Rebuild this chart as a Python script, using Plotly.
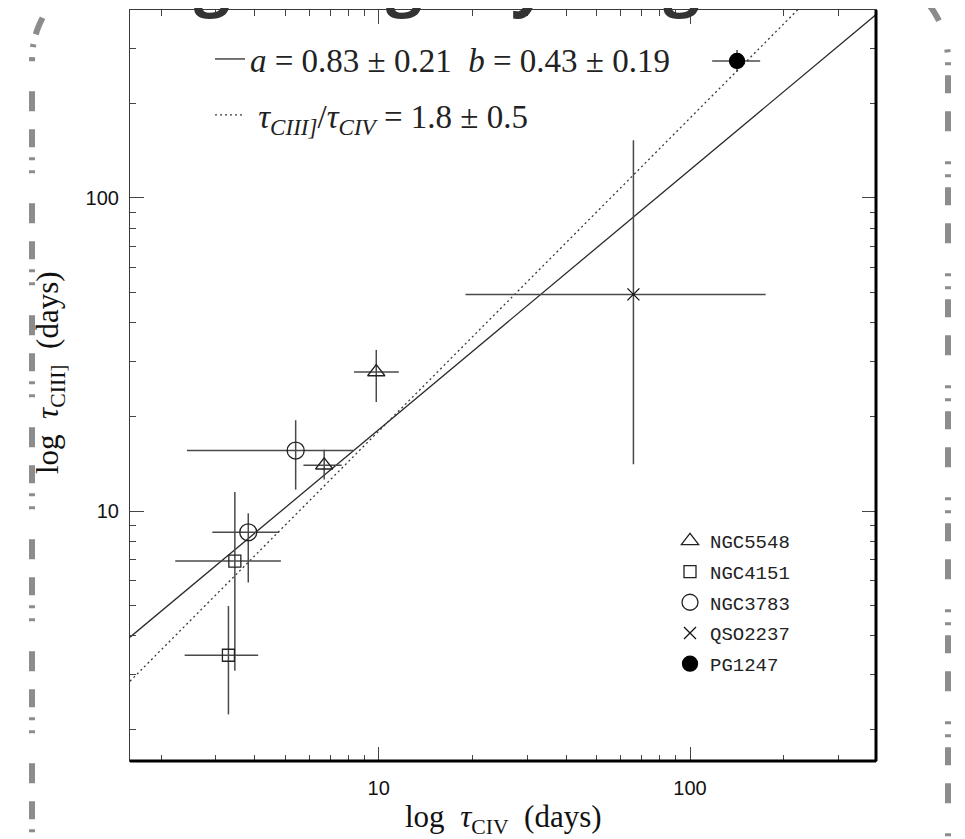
import numpy as np
import plotly.graph_objects as go

# ---------------- data ----------------
ngc5548_x = [6.68, 9.82]
ngc5548_y = [14.0, 27.8]
ngc5548_xlo = [5.73, 8.33]
ngc5548_xhi = [7.60, 11.6]
ngc5548_ylo = [12.6, 22.3]
ngc5548_yhi = [15.7, 32.7]

ngc4151_x = [3.45, 3.29]
ngc4151_y = [6.92, 3.46]
ngc4151_xlo = [2.22, 2.38]
ngc4151_xhi = [4.85, 4.10]
ngc4151_ylo = [3.09, 2.24]
ngc4151_yhi = [11.5, 4.97]

ngc3783_x = [5.41, 3.81]
ngc3783_y = [15.6, 8.55]
ngc3783_xlo = [2.42, 2.92]
ngc3783_xhi = [8.29, 4.79]
ngc3783_ylo = [11.7, 5.91]
ngc3783_yhi = [19.5, 9.83]

qso2237_x = [65.8]
qso2237_y = [49.2]
qso2237_xlo = [19.0]
qso2237_xhi = [175.0]
qso2237_ylo = [14.1]
qso2237_yhi = [153.0]

pg1247_x = [141.6]
pg1247_y = [274.0]
pg1247_xlo = [117.8]
pg1247_xhi = [168.0]
pg1247_ylo = [252.7]
pg1247_yhi = [297.0]

fit_a, fit_b = 0.83, 0.43          # log tCIII = a log tCIV + b
ratio = 1.8                         # tCIII / tCIV
line_x = [10 ** 0.201, 10 ** 2.6]

x_tickvals = [10, 100]
y_tickvals = [10, 100]
minor_vals = [2, 3, 4, 5, 6, 7, 8, 9, 20, 30, 40, 50, 60, 70, 80, 90, 200, 300]

# ---------------- layout geometry ----------------
# the page body adds an 8px offset, so the figure is 8px smaller
OFF = 8
W, H = 965 - OFF, 839 - OFF
ML, MR, MT, MB = 130 - OFF, 89, 10 - OFF, 78
PW, PH = W - ML - MR, H - MT - MB   # 746 x 751
REF_L, REF_B = 130, 761             # plot-area corner in screen pixels


def px(xp):
    return (xp - REF_L) / PW


def py(yp):
    return (REF_B - yp) / PH


ERR = "#4a4a4a"
SERIF = "Liberation Serif"

fig = go.Figure()

# fit lines
fig.add_trace(go.Scatter(
    x=line_x, y=[10 ** (fit_a * np.log10(v) + fit_b) for v in line_x],
    mode="lines", line=dict(color="#2a2a2a", width=1.3),
    name="<i>a</i> = 0.83 ± 0.21  <i>b</i> = 0.43 ± 0.19",
    legend="legend", legendgroup="fit1", showlegend=True))
fig.add_trace(go.Scatter(
    x=line_x, y=[ratio * v for v in line_x],
    mode="lines", line=dict(color="#3a3a3a", width=1.3, dash="2px,3px"),
    name=" <i>τ</i><sub><i>CIII]</i></sub>/<i>τ</i><sub><i>CIV</i></sub> = 1.8 ± 0.5",
    legend="legend", legendgroup="fit2", showlegend=True))


def add_obj(name, xs, ys, xlo, xhi, ylo, yhi, symbol, size, color):
    fig.add_trace(go.Scatter(
        x=xs, y=ys, mode="markers", name=name,
        legend="legend2", legendgroup=name,
        marker=dict(symbol=symbol, size=size, color=color,
                    line=dict(color=color, width=1.3)),
        error_x=dict(type="data", symmetric=False,
                     array=[h - v for h, v in zip(xhi, xs)],
                     arrayminus=[v - l for v, l in zip(xs, xlo)],
                     color=ERR, thickness=1.5, width=0),
        error_y=dict(type="data", symmetric=False,
                     array=[h - v for h, v in zip(yhi, ys)],
                     arrayminus=[v - l for v, l in zip(ys, ylo)],
                     color=ERR, thickness=1.5, width=0),
    ))


add_obj("NGC5548", ngc5548_x, ngc5548_y, ngc5548_xlo, ngc5548_xhi, ngc5548_ylo, ngc5548_yhi,
        "triangle-up-open", 15, "#222")
add_obj("NGC4151", ngc4151_x, ngc4151_y, ngc4151_xlo, ngc4151_xhi, ngc4151_ylo, ngc4151_yhi,
        "square-open", 12, "#222")
add_obj("NGC3783", ngc3783_x, ngc3783_y, ngc3783_xlo, ngc3783_xhi, ngc3783_ylo, ngc3783_yhi,
        "circle-open", 17, "#222")
add_obj("QSO2237", qso2237_x, qso2237_y, qso2237_xlo, qso2237_xhi, qso2237_ylo, qso2237_yhi,
        "x-thin-open", 12, "#111")
add_obj("PG1247", pg1247_x, pg1247_y, pg1247_xlo, pg1247_xhi, pg1247_ylo, pg1247_yhi,
        "circle", 15, "#000")

axis_common = dict(
    type="log", showgrid=False, zeroline=False,
    showline=True, linecolor="#3a3a3a", linewidth=1.2, mirror="allticks",
    ticks="inside", ticklen=14, tickwidth=1.2, tickcolor="#444",
    tickmode="array",
    tickfont=dict(family="Liberation Sans", size=20, color="#111"),
    minor=dict(tickmode="array", tickvals=minor_vals, ticks="inside",
               ticklen=6, tickwidth=1.2, tickcolor="#444", showgrid=False),
)

fig.update_xaxes(range=[0.201, 2.5975], tickvals=x_tickvals,
                 ticktext=[str(v) for v in x_tickvals], ticklabelstandoff=9,
                 **axis_common)
fig.update_yaxes(range=[0.2013, 2.6006], tickvals=y_tickvals,
                 ticktext=[str(v) for v in y_tickvals], ticklabelstandoff=6,
                 **axis_common)

# rounded dash-dot frame around the figure
fl, fr, ft, fb, rad = 32, 948, -30, 980, 90
pts = []
for cx, cy, a0 in [(fl + rad, ft + rad, 180), (fr - rad, ft + rad, 270),
                   (fr - rad, fb - rad, 0), (fl + rad, fb - rad, 90)]:
    for a in np.linspace(a0, a0 + 90, 20):
        t = np.radians(a)
        pts.append((cx + rad * np.cos(t), cy + rad * np.sin(t)))
path = "M " + " L ".join(f"{px(x):.5f},{py(y):.5f}" for x, y in pts) + " Z"

shapes = [
    dict(type="path", xref="paper", yref="paper", path=path,
         line=dict(color="#8c8c8c", width=6,
                   dash="3px,10px,3px,10px,18px,18px,20px,30px"),
         layer="above"),
    dict(type="line", xref="paper", yref="paper", x0=0, x1=1, y0=0, y1=0,
         line=dict(color="#000", width=3), layer="above"),
    dict(type="line", xref="paper", yref="paper", x0=1, x1=1, y0=0, y1=1,
         line=dict(color="#000", width=3), layer="above"),
]

annotations = [
    dict(text="log  <i>τ</i><sub>CIV</sub>  (days)", xref="paper", yref="paper",
         x=0.5, y=0, yshift=-58, showarrow=False, yanchor="middle",
         font=dict(family=SERIF, size=31, color="#111")),
    dict(text="log  <i>τ</i><sub>CIII]</sub>  (days)", xref="paper", yref="paper",
         x=0, y=py(373), xshift=-(REF_L - 50), showarrow=False, textangle=-90,
         xanchor="center", yanchor="middle",
         font=dict(family=SERIF, size=31, color="#111")),
    dict(text="<b>Scaling of lags by length</b>", xref="paper", yref="paper",
         x=px(387), y=py(24), xanchor="center", yanchor="bottom", showarrow=False,
         font=dict(family="Open Sans", size=64, color="#333")),
]

fig.update_layout(
    width=W, height=H,
    margin=dict(l=ML, r=MR, t=MT, b=MB),
    paper_bgcolor="white", plot_bgcolor="white",
    shapes=shapes, annotations=annotations,
    legend=dict(x=px(210), y=py(31), xanchor="left", yanchor="top",
                font=dict(family=SERIF, size=33, color="#222"),
                bgcolor="rgba(0,0,0,0)", traceorder="grouped",
                tracegroupgap=10, itemwidth=30),
    legend2=dict(x=px(670), y=py(522), xanchor="left", yanchor="top",
                 font=dict(family="Liberation Mono", size=19, color="#222"),
                 bgcolor="rgba(0,0,0,0)", traceorder="grouped",
                 tracegroupgap=3, itemsizing="trace"),
)

fig.write_html("out.html")
